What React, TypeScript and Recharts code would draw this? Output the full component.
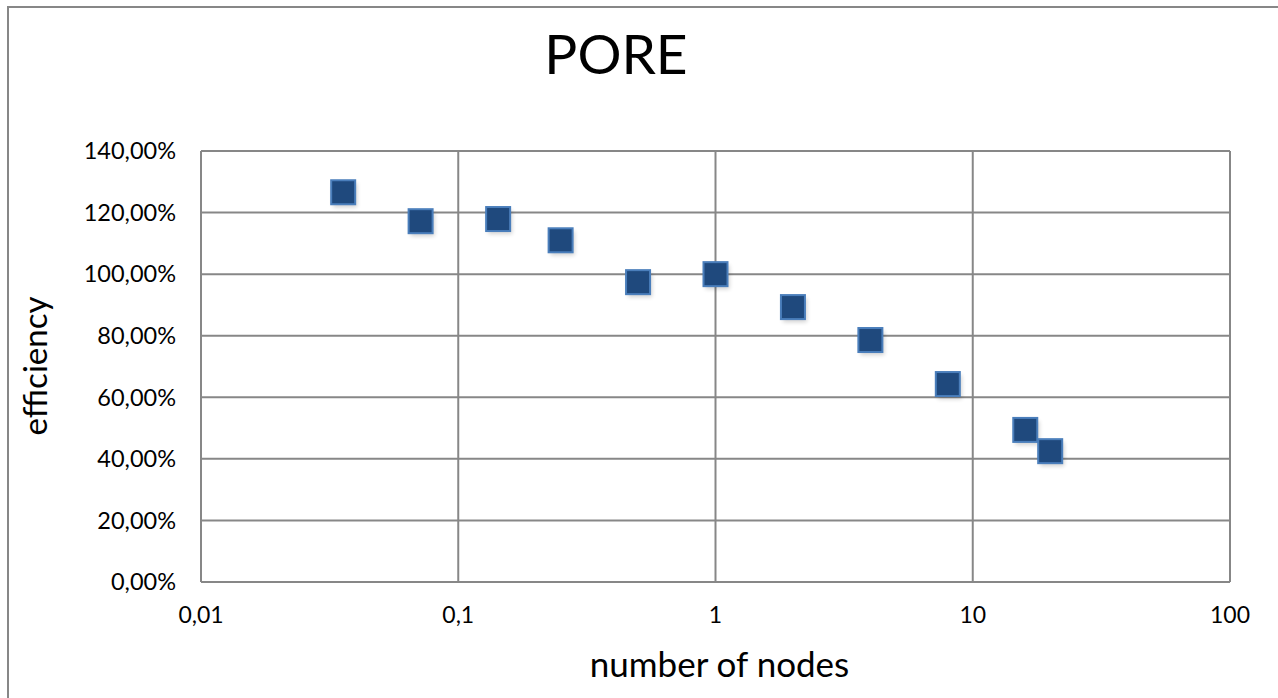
import { ScatterChart, Scatter, XAxis, YAxis, CartesianGrid } from "recharts";

// number of nodes (log axis) and efficiency in percent
const nodes = [0.0357, 0.0714, 0.1429, 0.25, 0.5, 1, 2, 4, 8, 16, 20];
const efficiency = [126.6, 117.2, 117.9, 111.0, 97.4, 100.0, 89.3, 78.6, 64.3, 49.4, 42.5];
const xTicks = [0.01, 0.1, 1, 10, 100];
const yTicks = [0, 20, 40, 60, 80, 100, 120, 140];

const data = nodes.map((n, i) => ({ nodes: n, efficiency: efficiency[i] }));

const font = "Lato, 'Open Sans', sans-serif";

const SquareMarker = (props: any) => {
  const { cx, cy } = props;
  if (cx == null || cy == null) return null;
  const s = 24;
  return (
    <g>
      <rect x={cx - s / 2 + 2} y={cy - s / 2 + 3} width={s} height={s} fill="#000" opacity={0.18} filter="url(#blur)" />
      <rect x={cx - s / 2} y={cy - s / 2} width={s} height={s} fill="#1f497d" stroke="#4a7ebb" strokeWidth={2} />
    </g>
  );
};

export default function App() {
  return (
    <div style={{ position: "fixed", left: 0, top: 0, width: 1278, height: 698, overflow: "hidden", background: "#fff", fontFamily: font }}>
      <div style={{ position: "absolute", left: 7, top: 6, width: 1300, height: 720, border: "2px solid #878787" }} />
      <div style={{ position: "absolute", left: 0, width: 1232, top: 53, transform: "translateY(-50%)", textAlign: "center", fontSize: 55, lineHeight: 1, color: "#000" }}>PORE</div>
      <div style={{ position: "absolute", left: 205, width: 1029, top: 663, transform: "translateY(-50%)", textAlign: "center", fontSize: 35, lineHeight: 1, color: "#000" }}>number of nodes</div>
      <div
        style={{
          position: "absolute",
          left: 34,
          top: 366,
          transform: "translate(-50%, -50%) rotate(-90deg)",
          fontSize: 33,
          lineHeight: 1,
          whiteSpace: "nowrap",
          color: "#000",
        }}
      >
        efficiency
      </div>
      <div style={{ position: "absolute", left: 0, top: 0 }}>
        <ScatterChart width={1278} height={698} margin={{ top: 151, right: 48, bottom: 76, left: 81 }}>
          <defs>
            <filter id="blur" x="-50%" y="-50%" width="200%" height="200%">
              <feGaussianBlur stdDeviation="2" />
            </filter>
          </defs>
          <CartesianGrid stroke="#878787" strokeWidth={2} horizontalValues={yTicks} verticalValues={xTicks} />
          <XAxis
            type="number"
            dataKey="nodes"
            scale="log"
            domain={[0.01, 100]}
            ticks={xTicks}
            allowDataOverflow
            height={40}
            axisLine={false}
            tickLine={false}
            tick={{ fontSize: 23, fill: "#000", fontFamily: font }}
            tickMargin={19}
            tickFormatter={(v: number) => String(v).replace(".", ",")}
          />
          <YAxis
            type="number"
            dataKey="efficiency"
            domain={[0, 140]}
            ticks={yTicks}
            width={120}
            axisLine={false}
            tickLine={false}
            tick={{ fontSize: 23.5, fill: "#000", fontFamily: font }}
            tickMargin={19}
            tickFormatter={(v: number) => v.toFixed(2).replace(".", ",") + "%"}
          />
          <Scatter data={data} shape={SquareMarker} isAnimationActive={false} />
        </ScatterChart>
      </div>
    </div>
  );
}
